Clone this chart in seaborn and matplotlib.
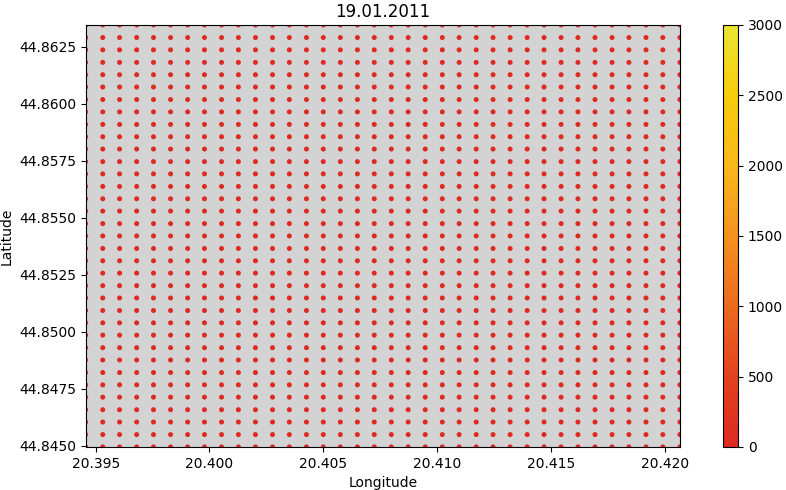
import numpy as np
import pandas as pd
import seaborn as sns
import matplotlib
matplotlib.use('Agg')
import matplotlib.pyplot as plt
from matplotlib.colors import LinearSegmentedColormap, Normalize
from matplotlib.cm import ScalarMappable

# grid of sample locations
longitudes = [20.39456, 20.39531, 20.39605, 20.39680, 20.39754, 20.39829,
              20.39904, 20.39978, 20.40053, 20.40127, 20.40202, 20.40277,
              20.40351, 20.40426, 20.40500, 20.40575, 20.40650, 20.40724,
              20.40799, 20.40873, 20.40948, 20.41023, 20.41097, 20.41172,
              20.41246, 20.41321, 20.41396, 20.41470, 20.41545, 20.41619,
              20.41694, 20.41769, 20.41843, 20.41918, 20.41992, 20.42067]
latitudes = [44.84496, 44.84550, 44.84605, 44.84659, 44.84714, 44.84768,
             44.84822, 44.84877, 44.84931, 44.84986, 44.85040, 44.85094,
             44.85149, 44.85203, 44.85258, 44.85312, 44.85366, 44.85421,
             44.85475, 44.85530, 44.85584, 44.85638, 44.85693, 44.85747,
             44.85802, 44.85856, 44.85910, 44.85965, 44.86019, 44.86074,
             44.86128, 44.86182, 44.86237, 44.86291, 44.86346]
# every point on this date has value 0
point_value = 0
date_label = '19.01.2011'
value_min, value_max = 0, 3000

lon_grid, lat_grid = np.meshgrid(longitudes, latitudes)
df = pd.DataFrame({'Longitude': lon_grid.ravel(),
                   'Latitude': lat_grid.ravel()})
df['value'] = point_value

cmap = LinearSegmentedColormap.from_list(
    'redyellow', ['#dd2a22', '#e4421f', '#ec6a1f', '#f4921f', '#f9b81a', '#f7cc0c', '#ece432'])
norm = Normalize(vmin=value_min, vmax=value_max)

fig = plt.figure(figsize=(7.86, 4.9), dpi=100)
ax = fig.add_axes([0.109, 0.088, 0.756, 0.861])
cax = fig.add_axes([0.920, 0.088, 0.019, 0.861])

ax.set_facecolor('lightgray')
sns.scatterplot(data=df, x='Longitude', y='Latitude', hue='value',
                palette=cmap, hue_norm=norm, s=13, linewidth=0,
                legend=False, ax=ax)
ax.set_xlim(min(longitudes), max(longitudes))
ax.set_ylim(min(latitudes), max(latitudes))
ax.set_xticks([20.395, 20.400, 20.405, 20.410, 20.415, 20.420])
ax.set_xticklabels(['20.395', '20.400', '20.405', '20.410', '20.415', '20.420'])
ax.set_title(date_label, fontsize=12)

sm = ScalarMappable(norm=norm, cmap=cmap)
fig.colorbar(sm, cax=cax)

fig.savefig('out.png', dpi=100)
